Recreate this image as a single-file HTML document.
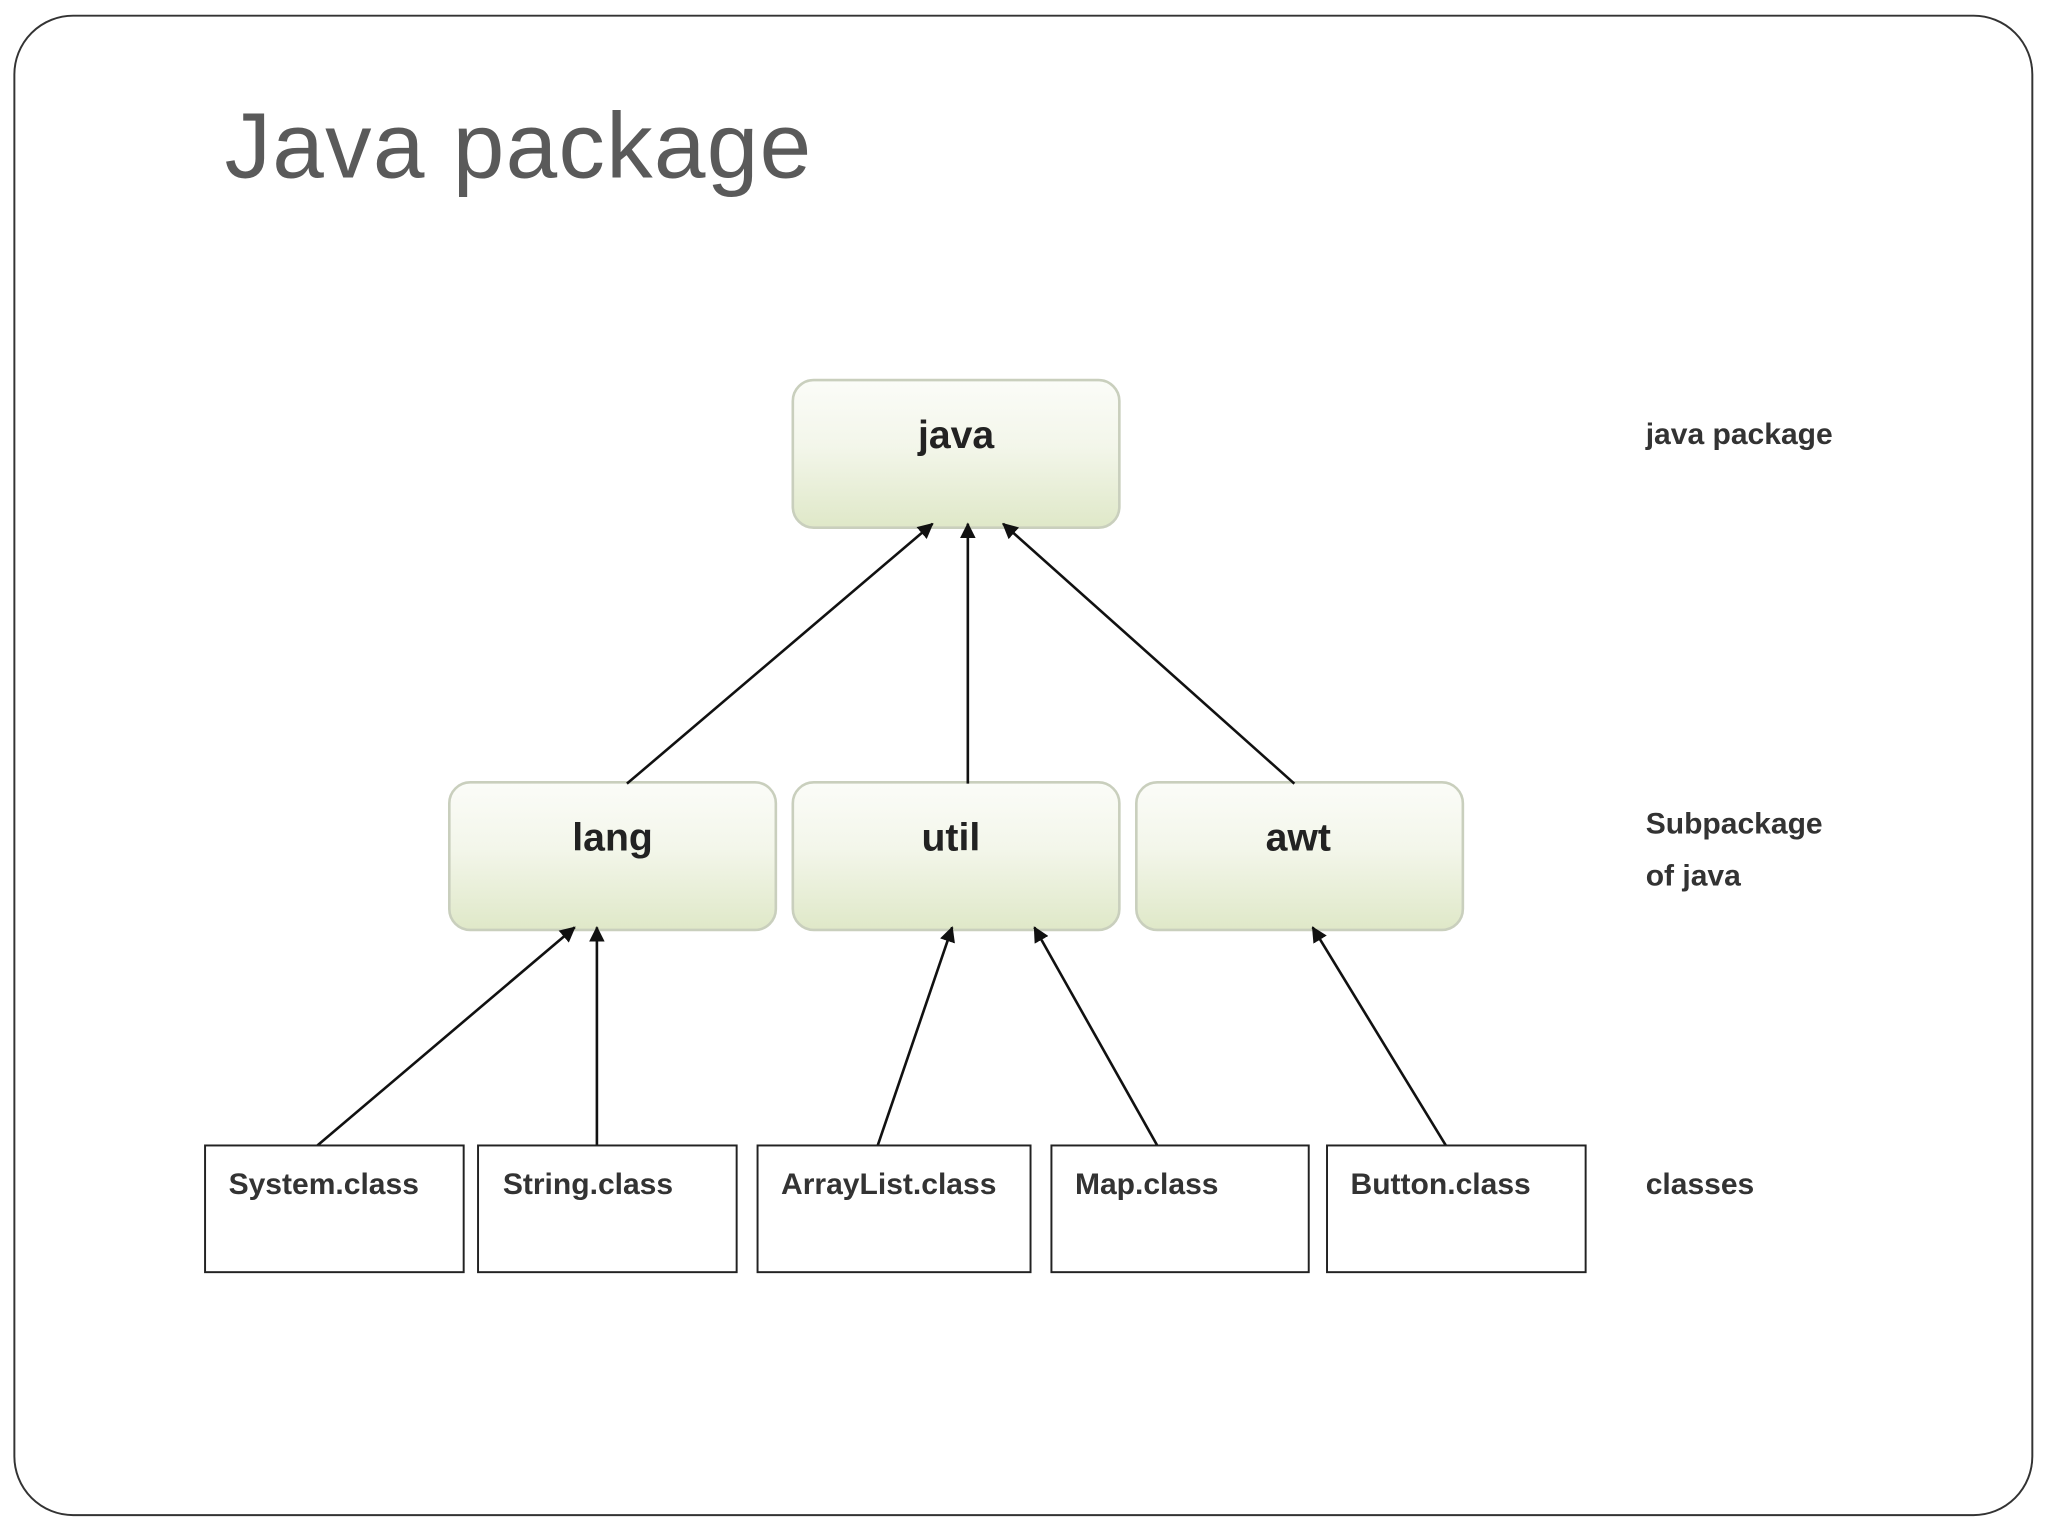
<!DOCTYPE html>
<html><head><meta charset="utf-8"><style>
html,body{margin:0;padding:0;background:#fff;}
svg{display:block;}
</style></head><body>
<svg width="2048" height="1536" viewBox="0 0 1568 1176" xmlns="http://www.w3.org/2000/svg" font-family="Liberation Sans, sans-serif">
<defs>
<linearGradient id="g" x1="0" y1="0" x2="0" y2="1">
<stop offset="0" stop-color="#fbfcf8"/>
<stop offset="0.45" stop-color="#f3f6ea"/>
<stop offset="1" stop-color="#dfe8c8"/>
</linearGradient>
<marker id="a" markerWidth="12" markerHeight="12" refX="11" refY="6" orient="auto" markerUnits="userSpaceOnUse">
<path d="M0,0 L12,6 L0,12 z" fill="#111"/>
</marker>
</defs>
<rect x="11" y="12" width="1545" height="1148" rx="45" fill="#fff" stroke="#333" stroke-width="1.5"/>
<text x="172" y="136" font-size="71" fill="#5a5a5a" letter-spacing="1">Java package</text>
<g stroke="#c9cfbd" stroke-width="2" fill="url(#g)">
<rect x="607" y="291" width="250" height="113" rx="16"/>
<rect x="344" y="599" width="250" height="113" rx="16"/>
<rect x="607" y="599" width="250" height="113" rx="16"/>
<rect x="870" y="599" width="250" height="113" rx="16"/>
</g>
<g font-weight="bold" font-size="30" fill="#222" text-anchor="middle">
<text x="732" y="343">java</text>
<text x="469" y="651">lang</text>
<text x="728" y="651">util</text>
<text x="994" y="651">awt</text>
</g>
<g stroke="#111" stroke-width="2" marker-end="url(#a)">
<line x1="480" y1="600" x2="714" y2="401"/>
<line x1="741" y1="600" x2="741" y2="401"/>
<line x1="991" y1="600" x2="768" y2="401"/>
<line x1="243" y1="877" x2="440" y2="710"/>
<line x1="457" y1="877" x2="457" y2="710"/>
<line x1="672" y1="877" x2="729" y2="710"/>
<line x1="886" y1="877" x2="792" y2="710"/>
<line x1="1107" y1="877" x2="1005" y2="710"/>
</g>
<g stroke="#222" stroke-width="1.5" fill="#fff">
<rect x="157" y="877" width="198" height="97"/>
<rect x="366" y="877" width="198" height="97"/>
<rect x="580" y="877" width="209" height="97"/>
<rect x="805" y="877" width="197" height="97"/>
<rect x="1016" y="877" width="198" height="97"/>
</g>
<g font-weight="bold" font-size="23" fill="#333">
<text x="175" y="914">System.class</text>
<text x="385" y="914">String.class</text>
<text x="598" y="914">ArrayList.class</text>
<text x="823" y="914">Map.class</text>
<text x="1034" y="914">Button.class</text>
<text x="1260" y="340">java package</text>
<text x="1260" y="638">Subpackage</text>
<text x="1260" y="678">of java</text>
<text x="1260" y="914">classes</text>
</g>
</svg>
</body></html>
